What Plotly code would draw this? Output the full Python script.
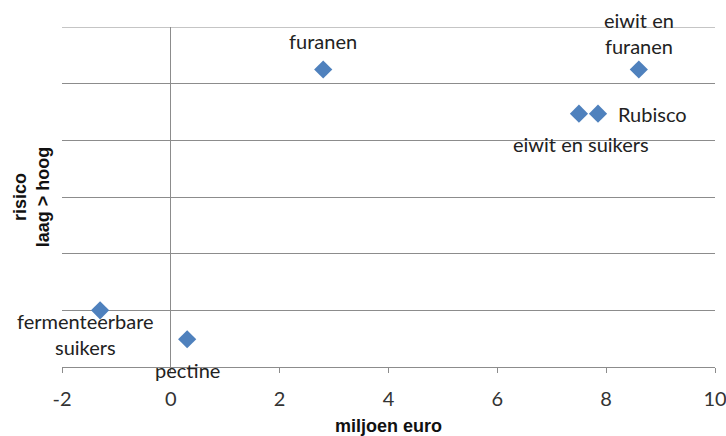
import plotly.graph_objects as go

# Opbrengst (miljoen euro) tegenover risico per productroute
routes = ["furanen", "eiwit en furanen", "eiwit en suikers", "Rubisco",
          "fermenteerbare suikers", "pectine"]
opbrengst = [2.8, 8.6, 7.5, 7.85, -1.3, 0.3]
risico = [5.25, 5.25, 4.47, 4.47, 1.0, 0.49]

label_text = ["furanen", "eiwit en<br>furanen", "eiwit en suikers", "Rubisco",
              "fermenteerbare<br>suikers", "pectine"]
# pixel offsets of each label relative to its marker
label_dx = [0, 0, 2, 54, -15, 0]
label_dy = [29, 37, -30, 0, -24, -31]

x_ticks = [-2, 0, 2, 4, 6, 8, 10]

font_family = "Lato, 'Open Sans', sans-serif"
title_family = "'Liberation Sans', Arial, sans-serif"
grid_color = "#8c8c8c"

fig = go.Figure()
fig.add_trace(go.Scatter(
    x=opbrengst, y=risico, mode="markers",
    marker=dict(symbol="diamond", size=14, color="#4f81bd",
                line=dict(width=0)),
    hoverinfo="skip", showlegend=False,
))

for xv, yv, t, dx, dy in zip(opbrengst, risico, label_text, label_dx, label_dy):
    fig.add_annotation(x=xv, y=yv, xref="x", yref="y", text=t,
                       showarrow=False, xshift=dx, yshift=dy,
                       font=dict(family=font_family, size=20, color="#222222"),
                       align="center")

# top gridline at the upper edge of the plot area
fig.add_shape(type="line", xref="paper", yref="y", x0=0, x1=1, y0=6, y1=6,
              line=dict(color=grid_color, width=1), layer="below")

fig.update_layout(
    width=726, height=436,
    margin=dict(l=62, r=11, t=27, b=69),
    paper_bgcolor="white", plot_bgcolor="white",
    font=dict(family=font_family, size=20, color="#333333"),
    xaxis=dict(
        range=[-2, 10], tickvals=x_ticks, ticktext=[str(v) for v in x_ticks],
        showgrid=False, zeroline=True, zerolinecolor=grid_color,
        zerolinewidth=1, showline=True, linecolor=grid_color, linewidth=1,
        ticks="outside", ticklen=5, tickcolor=grid_color,
        ticklabelstandoff=9, ticklabeloverflow="allow",
        tickfont=dict(size=20, color="#333333"), automargin=False,
        title=dict(text="<b>miljoen euro</b>", standoff=14,
                   font=dict(family=title_family, size=18, color="#111111")),
    ),
    yaxis=dict(
        range=[0, 6], dtick=1, showticklabels=False,
        showgrid=True, gridcolor=grid_color, gridwidth=1,
        zeroline=False, showline=False, ticks="", automargin=False,
        title=dict(text="<b>risico<br>laag > hoog</b>", standoff=6,
                   font=dict(family=title_family, size=18, color="#111111")),
    ),
)

fig.write_html("out.html")
